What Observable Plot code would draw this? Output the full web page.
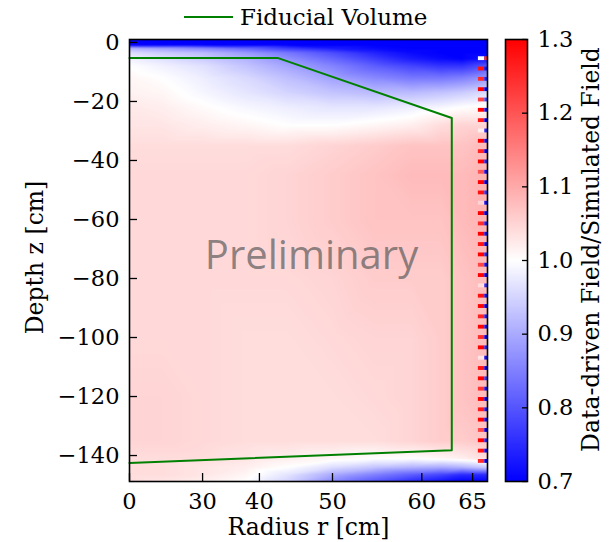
<!DOCTYPE html>
<html><head><meta charset="utf-8">
<script src="https://cdn.jsdelivr.net/npm/d3@7"></script>
<script src="https://cdn.jsdelivr.net/npm/@observablehq/plot@0.6"></script>
<style>
body{margin:0;background:#fff;}
#wrap{position:relative;width:611px;height:542px;font-family:"DejaVu Serif";overflow:hidden;}
#main{position:absolute;left:0;top:0;}
#cbar{position:absolute;left:490px;top:0;}
#legend{position:absolute;left:184px;top:2px;height:29px;display:flex;align-items:center;font-size:23px;color:#000;white-space:nowrap;}
#legend span{margin-left:7px;}
</style></head><body>
<div id="wrap"><div id="main"></div><div id="cbar"></div>
<div id="legend"><svg width="49" height="4"><line x1="0" y1="2" x2="49" y2="2" stroke="#008000" stroke-width="2"/></svg><span>Fiducial Volume</span></div>
</div>
<script>
// ---- data ----
const xTicks = [0, 30, 40, 50, 60, 65];
const yTicks = [0, -20, -40, -60, -80, -100, -120, -140];
const cbTicks = [0.7, 0.8, 0.9, 1.0, 1.1, 1.2, 1.3];
const xDomain = [0, 66.4];
const yDomain = [-148.8, 1];

// radius grid columns (cm) and depth grid rows (cm)
const rCols = [0, 20, 30, 38, 44, 50, 55, 59, 62, 64, 66.4];
const zRows = [1, -0.8, -2, -3.5, -5.5, -8, -12, -17, -22, -28, -35, -45, -60, -80, -100, -120, -135, -141, -144, -146.5, -148.8];
// field ratio (data-driven / simulated), one array per depth row
const ratio = [
  [0.70, 0.70, 0.70, 0.70, 0.70, 0.70, 0.70, 0.70, 0.70, 0.70, 0.70],
  [0.70, 0.70, 0.70, 0.70, 0.70, 0.70, 0.70, 0.70, 0.70, 0.70, 0.70],
  [0.91, 0.89, 0.86, 0.82, 0.77, 0.73, 0.71, 0.70, 0.70, 0.70, 0.70],
  [0.96, 0.94, 0.92, 0.88, 0.84, 0.79, 0.74, 0.71, 0.70, 0.70, 0.70],
  [0.985, 0.965, 0.94, 0.91, 0.87, 0.82, 0.77, 0.73, 0.71, 0.70, 0.72],
  [1.00, 0.985, 0.965, 0.93, 0.895, 0.855, 0.81, 0.78, 0.76, 0.76, 0.80],
  [1.01, 1.00, 0.98, 0.955, 0.925, 0.89, 0.86, 0.84, 0.84, 0.85, 0.88],
  [1.015, 1.01, 0.99, 0.97, 0.95, 0.93, 0.92, 0.92, 0.93, 0.94, 0.96],
  [1.025, 1.02, 1.005, 0.99, 0.98, 0.97, 0.97, 0.98, 0.99, 1.00, 1.01],
  [1.03, 1.03, 1.02, 1.01, 1.00, 1.00, 1.01, 1.02, 1.04, 1.05, 1.05],
  [1.04, 1.04, 1.04, 1.04, 1.04, 1.05, 1.06, 1.07, 1.07, 1.07, 1.08],
  [1.045, 1.045, 1.045, 1.045, 1.05, 1.06, 1.07, 1.08, 1.08, 1.08, 1.09],
  [1.045, 1.045, 1.045, 1.045, 1.05, 1.06, 1.07, 1.07, 1.07, 1.08, 1.09],
  [1.045, 1.045, 1.045, 1.045, 1.045, 1.05, 1.06, 1.06, 1.06, 1.07, 1.08],
  [1.045, 1.045, 1.045, 1.04, 1.04, 1.045, 1.05, 1.05, 1.06, 1.07, 1.08],
  [1.05, 1.05, 1.045, 1.04, 1.04, 1.04, 1.045, 1.05, 1.06, 1.07, 1.08],
  [1.05, 1.05, 1.045, 1.04, 1.04, 1.04, 1.04, 1.05, 1.06, 1.06, 1.07],
  [1.04, 1.04, 1.04, 1.03, 1.02, 1.01, 1.00, 1.00, 1.01, 1.02, 1.04],
  [1.04, 1.04, 1.03, 1.02, 1.00, 0.96, 0.93, 0.91, 0.90, 0.91, 0.94],
  [1.04, 1.04, 1.03, 1.01, 0.97, 0.90, 0.85, 0.81, 0.78, 0.75, 0.75],
  [1.04, 1.03, 1.02, 1.00, 0.95, 0.86, 0.80, 0.75, 0.72, 0.70, 0.70]
];

// noisy outermost bins at the wall: depth of each dash and its two values
const edgeZ = [-5.5, -9, -12.5, -16, -19.5, -23, -26.5, -30, -33.5, -37, -40.5, -44, -47.5, -51, -54.5, -58, -61.5, -65, -68.5, -72, -75.5, -79, -82.5, -86, -89.5, -93, -96.5, -100, -103.5, -107, -110.5, -114, -117.5, -121, -124.5, -128, -131.5, -135, -138.5, -142];
const edgeInner = [1.00, 1.28, 1.25, 1.30, 1.22, 1.30, 1.27, 1.02, 1.30, 1.26, 1.30, 1.20, 1.30, 1.28, 1.05, 1.30, 1.25, 1.30, 1.28, 1.30, 1.22, 1.30, 1.04, 1.28, 1.30, 1.26, 1.30, 1.25, 1.30, 1.03, 1.28, 1.30, 1.24, 1.30, 1.27, 1.30, 1.22, 1.30, 1.28, 1.25];
const edgeOuter = [1.25, 0.72, 0.74, 0.70, 0.78, 0.72, 0.70, 0.75, 0.72, 0.70, 0.74, 0.72, 0.70, 0.76, 0.72, 0.70, 0.73, 0.72, 0.70, 0.74, 0.72, 0.70, 0.75, 0.72, 0.70, 0.73, 0.72, 0.70, 0.74, 0.72, 0.70, 0.76, 0.72, 0.70, 0.73, 0.72, 0.70, 0.74, 0.72, 0.70];
const edgeBinsR = [65.55, 66.15, 66.4];

// fiducial volume outline
const fvR = [0, 42.8, 63.0, 63.0, 0];
const fvZ = [-5.3, -5.3, -25.6, -138.2, -142.5];

const cbLabel = "Data-driven Field/Simulated Field";
const watermark = "Preliminary";

// ---- build tables ----
const grid = [];
zRows.forEach((z, i) => rCols.forEach((r, j) => grid.push({r, z, v: ratio[i][j]})));
const edges = edgeZ.map((z, i) => ({z, a: edgeInner[i], b: edgeOuter[i]}));
const fv = fvR.map((r, i) => ({r, z: fvZ[i]}));

const colorOpts = {type: "linear", domain: [0.7, 1.0, 1.3], range: ["#0000ff", "#ffffff", "#ff0000"], interpolate: "rgb", clamp: true};
const W = 500, H = 542, mL = 129, mR = 13, mT = 39, mB = 61;
const fw = W - mL - mR, fh = H - mT - mB;
const fs = 22.5;
const fl = 23.5;
const half = 0.65;

const main = Plot.plot({
  width: W, height: H,
  marginLeft: mL, marginRight: mR, marginTop: mT, marginBottom: mB,
  style: {fontFamily: "DejaVu Serif", background: "transparent", color: "#000"},
  x: {type: "pow", exponent: 2, domain: xDomain},
  y: {domain: yDomain},
  color: colorOpts,
  marks: [
    Plot.raster(grid, {x: "r", y: "z", fill: "v", interpolate: "barycentric", pixelSize: 1,
      x1: xDomain[0], x2: xDomain[1], y1: yDomain[0], y2: yDomain[1]}),
    Plot.rect(edges, {x1: edgeBinsR[0], x2: edgeBinsR[1], y1: d => d.z + half, y2: d => d.z - half, fill: "a"}),
    Plot.rect(edges, {x1: edgeBinsR[1], x2: edgeBinsR[2], y1: d => d.z + half, y2: d => d.z - half, fill: "b"}),
    Plot.line(fv, {x: "r", y: "z", stroke: "#008000", strokeWidth: 2}),
    Plot.text([watermark], {frameAnchor: "middle", textAnchor: "middle", dx: 3, dy: -4, fontFamily: "Open Sans", fontSize: 40, fill: "#5a5a5a", fillOpacity: 0.7}),
    Plot.tickX(xTicks, {x: d => d, insetTop: fh - 8, stroke: "#000", strokeWidth: 1.3}),
    Plot.tickY(yTicks, {y: d => d, insetRight: fw - 8, stroke: "#000", strokeWidth: 1.3}),
    Plot.frame({stroke: "#000", strokeWidth: 1.6}),
    Plot.axisX(xTicks, {anchor: "bottom", tickSize: 0, tickPadding: 12, fontSize: fs, label: null, tickFormat: d3.format("d")}),
    Plot.axisY(yTicks, {anchor: "left", tickSize: 0, tickPadding: 10, fontSize: fs, label: null, tickFormat: d3.format("d")}),
    Plot.text(["Radius r [cm]"], {frameAnchor: "bottom", textAnchor: "middle", dy: 46, fontSize: fl, lineAnchor: "middle", fill: "#000"}),
    Plot.text(["Depth z [cm]"], {frameAnchor: "left", textAnchor: "middle", dx: -94, dy: -3, rotate: -90, fontSize: fl, lineAnchor: "middle", fill: "#000"})
  ]
});
document.getElementById("main").appendChild(main);

const cbar = Plot.plot({
  width: 121, height: H,
  marginLeft: 15, marginRight: 84, marginTop: mT, marginBottom: mB,
  style: {fontFamily: "DejaVu Serif", background: "transparent", color: "#000"},
  x: {domain: [0, 1], axis: null},
  y: {domain: [cbTicks[0], cbTicks[cbTicks.length - 1]], axis: null},
  color: colorOpts,
  marks: [
    Plot.raster({fill: (x, y) => y, x1: 0, x2: 1, y1: cbTicks[0], y2: cbTicks[cbTicks.length - 1], pixelSize: 1}),
    Plot.tickY(cbTicks, {y: d => d, insetLeft: 22 - 5, stroke: "#000", strokeWidth: 1.3}),
    Plot.frame({stroke: "#000", strokeWidth: 1.6}),
    Plot.axisY(cbTicks, {anchor: "right", tickSize: 0, tickPadding: 10, fontSize: fs, label: null, tickFormat: d3.format(".1f")}),
    Plot.text([cbLabel], {frameAnchor: "right", textAnchor: "middle", dx: 64, dy: -11, rotate: -90, fontSize: fl, lineAnchor: "middle", fill: "#000"})
  ]
});
document.getElementById("cbar").appendChild(cbar);
</script>
</body></html>
